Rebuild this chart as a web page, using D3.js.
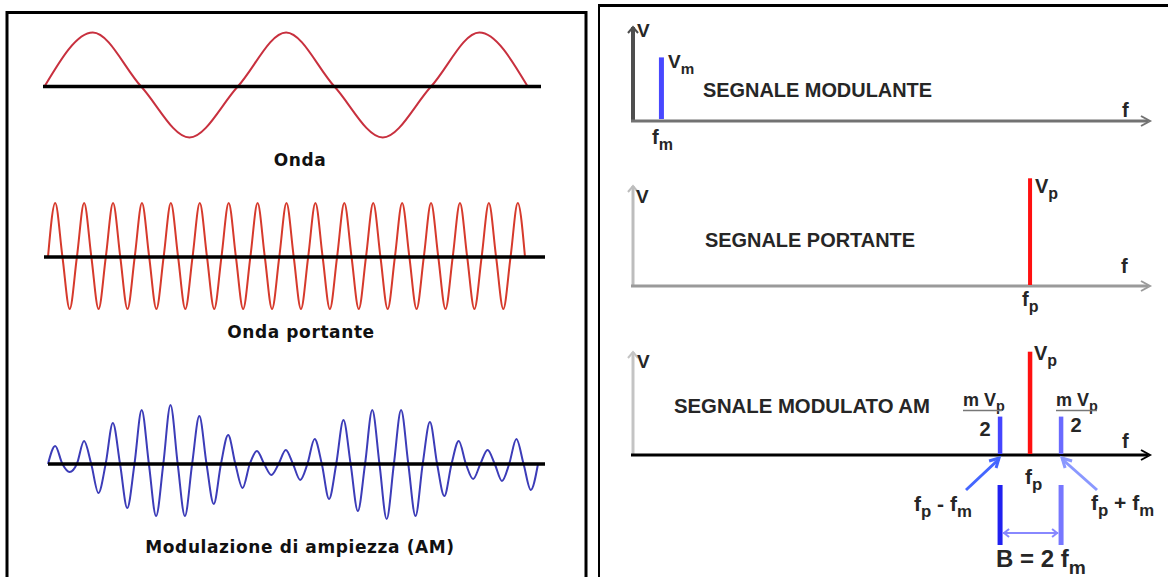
<!DOCTYPE html>
<html>
<head>
<meta charset="utf-8">
<script src="https://cdn.jsdelivr.net/npm/d3@7"></script>
<style>
  body { margin: 0; background: #fff; }
  svg { display: block; }
  .cap { font-family: "DejaVu Sans", Verdana, sans-serif; font-weight: bold; font-size: 17px; fill: #111; }
  .lab { font-family: "Liberation Sans", Arial, sans-serif; font-weight: bold; fill: #262626; white-space: pre; }
</style>
</head>
<body>
<svg id="chart" width="1168" height="577"></svg>
<script>
/* Onde (sinistra): ampiezze dei massimi/minimi, in px rispetto all'asse */
const ondaExtrema = [54, -51, 54, -51, 54];
const portanteExtrema = [54, -52, 54, -52, 54, -52, 54, -52, 54, -52, 54, -52, 54, -52, 54, -52, 54,
                         -52, 54, -52, 54, -52, 54, -52, 54, -52, 54, -52, 54, -52, 54, -52, 54];
const amExtrema = [18, -8, 23, -29, 41, -44, 54, -52, 59, -52, 48, -40, 29, -24, 13, -11, 14,
                   -16, 25, -35, 44, -47, 54, -55, 54, -52, 42, -32, 23, -15, 14, -17, 25, -26];
const waveLabels = ['Onda', 'Onda portante', 'Modulazione di ampiezza (AM)'];

/* Spettri (destra): frequenza su scala 0..100, ampiezza relativa 0..1 */
const modulanteFreq = [5.5];
const modulanteAmp  = [0.56];
const portanteFreq  = [76.8];
const portanteAmp   = [0.97];
const amFreq = [71.0, 76.8, 82.8];
const amAmp  = [0.34, 0.93, 0.34];
const spectrumTitles = ['SEGNALE MODULANTE', 'SEGNALE PORTANTE', 'SEGNALE MODULATO AM'];

const svg = d3.select('#chart');

// ---- cornici
svg.append('rect').attr('x', 7).attr('y', 12.5).attr('width', 579).attr('height', 620)
  .attr('fill', 'none').attr('stroke', '#000').attr('stroke-width', 3);
svg.append('line').attr('x1', 598).attr('x2', 1168).attr('y1', 5.5).attr('y2', 5.5)
  .attr('stroke', '#000').attr('stroke-width', 3);
svg.append('line').attr('x1', 599).attr('x2', 599).attr('y1', 4).attr('y2', 577)
  .attr('stroke', '#000').attr('stroke-width', 2);

// ---- onde
function drawWave(extrema, x0, x1, axisY, axisX0, axisX1, color) {
  const n = extrema.length * 2;
  const x = d3.scaleLinear().domain([0, n]).range([x0, x1]);
  const y = d3.scaleLinear().domain([-60, 60]).range([axisY + 60, axisY - 60]);
  const pts = [[0, 0]];
  extrema.forEach((v, i) => { pts.push([2 * i + 1, v]); pts.push([2 * i + 2, 0]); });
  const line = d3.line().x(d => x(d[0])).y(d => y(d[1])).curve(d3.curveMonotoneX);
  svg.append('path').attr('d', line(pts)).attr('fill', 'none')
    .attr('stroke', color).attr('stroke-width', 2);
  svg.append('line').attr('x1', axisX0).attr('x2', axisX1).attr('y1', axisY).attr('y2', axisY)
    .attr('stroke', '#000').attr('stroke-width', 3.5);
}
drawWave(ondaExtrema, 44.5, 527.7, 86.5, 43, 541, '#c8303e');
drawWave(portanteExtrema, 48, 525, 257, 44, 545, '#d63a2c');
drawWave(amExtrema, 48, 538, 464, 48, 545, '#3c3cb8');

const capPos = [[300, 166], [301, 338], [300, 553]];
waveLabels.forEach((t, i) => {
  svg.append('text').attr('class', 'cap').attr('x', capPos[i][0]).attr('y', capPos[i][1])
    .attr('text-anchor', 'middle').attr('letter-spacing', 0.6).text(t);
});

// ---- spettri
const fx = d3.scaleLinear().domain([0, 100]).range([633, 1150]);

function text(x, y, str, size, anchor, fill) {
  return svg.append('text').attr('class', 'lab').attr('x', x).attr('y', y)
    .attr('font-size', size).attr('text-anchor', anchor || 'start')
    .attr('fill', fill || '#262626').text(str);
}
// etichetta composta: parti normali e pedici, messe una dopo l'altra
function compose(x, y, parts, size) {
  let cx = x;
  parts.forEach(([s, isSub]) => {
    const t = isSub ? text(cx, y + size * 0.3, s, size * 0.8) : text(cx, y, s, size);
    cx += t.node().getComputedTextLength();
  });
}

function axes(axisY, topY, vColor, hColor, vW) {
  svg.append('line').attr('x1', 633).attr('x2', 633).attr('y1', topY).attr('y2', axisY)
    .attr('stroke', vColor).attr('stroke-width', vW);
  svg.append('path').attr('d', `M628,${topY + 6}L633,${topY}L638,${topY + 6}`)
    .attr('fill', 'none').attr('stroke', vColor).attr('stroke-width', 2);
  svg.append('line').attr('x1', 631).attr('x2', 1148).attr('y1', axisY).attr('y2', axisY)
    .attr('stroke', hColor).attr('stroke-width', 3);
  svg.append('path').attr('d', `M1141,${axisY - 5}L1150,${axisY}L1141,${axisY + 5}`)
    .attr('fill', 'none').attr('stroke', hColor).attr('stroke-width', 2);
}

function bars(freqs, amps, axisY, colors, w) {
  const y = d3.scaleLinear().domain([0, 1]).range([axisY, axisY - 110]);
  svg.selectAll(null).data(freqs).enter().append('rect')
    .attr('x', d => fx(d) - w / 2).attr('width', w)
    .attr('y', (d, i) => y(amps[i])).attr('height', (d, i) => axisY - y(amps[i]))
    .attr('fill', (d, i) => colors[i]);
}

// pannello 1
axes(121, 27, '#4e4e4e', '#727272', 4);
bars(modulanteFreq, modulanteAmp, 119, ['#4848ff'], 5);
text(637, 37, 'V', 19);
compose(668, 68, [['V'], ['m', 1]], 19);
compose(652, 144, [['f'], ['m', 1]], 20);
text(1122, 117, 'f', 20);
text(703, 97, spectrumTitles[0], 20).attr('textLength', 229).attr('lengthAdjust', 'spacingAndGlyphs');

// pannello 2
axes(286, 186, '#bdbdbd', '#9a9a9a', 3);
bars(portanteFreq, portanteAmp, 285, ['#ff1010'], 4);
text(636, 203, 'V', 19);
compose(1035, 193, [['V'], ['p', 1]], 20);
compose(1022, 306, [['f'], ['p', 1]], 20);
text(1121, 273, 'f', 20);
text(705, 247, spectrumTitles[1], 20).attr('textLength', 210).attr('lengthAdjust', 'spacingAndGlyphs');

// pannello 3
axes(455, 352, '#c4c4c4', '#000', 3);
bars(amFreq, amAmp, 454, ['#4545ff', '#ff1010', '#6a6aff'], 4.5);
text(637, 368, 'V', 19);
compose(1034, 360, [['V'], ['p', 1]], 20);
compose(1025, 484, [['f'], ['p', 1]], 21);
text(1122, 448, 'f', 20);
text(674, 413, spectrumTitles[2], 20).attr('textLength', 256).attr('lengthAdjust', 'spacingAndGlyphs');

// m Vp / 2
[[963, 1002, 985, 436], [1056, 1097, 1076, 432]].forEach(([a, b, c, base]) => {
  compose(a, 406, [['m '], ['V'], ['p', 1]], 18);
  svg.append('line').attr('x1', a).attr('x2', b).attr('y1', 410.5).attr('y2', 410.5)
    .attr('stroke', '#777').attr('stroke-width', 1.5);
  text(c, base, '2', 20, 'middle');
});

// frecce delle bande laterali
const xl = fx(amFreq[0]), xr = fx(amFreq[2]);
svg.append('line').attr('x1', 966).attr('y1', 490).attr('x2', xl - 1).attr('y2', 459)
  .attr('stroke', '#4466ff').attr('stroke-width', 3);
svg.append('path').attr('d', `M${xl - 11},${461}L${xl - 1},${458}L${xl - 4},${468}`)
  .attr('fill', 'none').attr('stroke', '#4466ff').attr('stroke-width', 3);
svg.append('line').attr('x1', 1097).attr('y1', 490).attr('x2', xr + 1).attr('y2', 459)
  .attr('stroke', '#8a98ff').attr('stroke-width', 3);
svg.append('path').attr('d', `M${xr + 11},${461}L${xr + 1},${458}L${xr + 4},${468}`)
  .attr('fill', 'none').attr('stroke', '#8a98ff').attr('stroke-width', 3);

compose(914, 511, [['f'], ['p', 1], [' - '], ['f'], ['m', 1]], 21);
compose(1091, 510, [['f'], ['p', 1], [' + '], ['f'], ['m', 1]], 21);

// larghezza di banda B
svg.append('line').attr('x1', xl).attr('x2', xl).attr('y1', 485).attr('y2', 545)
  .attr('stroke', '#2020f0').attr('stroke-width', 5);
svg.append('line').attr('x1', xr).attr('x2', xr).attr('y1', 485).attr('y2', 545)
  .attr('stroke', '#7777ff').attr('stroke-width', 5);
svg.append('line').attr('x1', xl + 3).attr('x2', xr - 3).attr('y1', 533).attr('y2', 533)
  .attr('stroke', '#8888ff').attr('stroke-width', 2);
svg.append('path').attr('d', `M${xl + 9},529L${xl + 4},533L${xl + 9},537M${xr - 9},529L${xr - 4},533L${xr - 9},537`)
  .attr('fill', 'none').attr('stroke', '#8888ff').attr('stroke-width', 2);
compose(996, 567, [['B = 2 f'], ['m', 1]], 24);
</script>
</body>
</html>
